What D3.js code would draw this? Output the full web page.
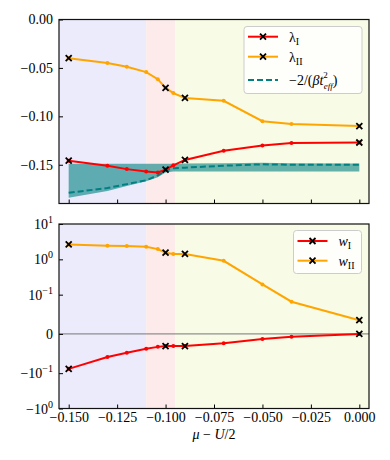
<!DOCTYPE html>
<html>
<head>
<meta charset="utf-8">
<script src="https://cdn.jsdelivr.net/npm/d3@7"></script>
<style>
  body { margin: 0; background: #fff; }
  text { font-family: "Liberation Serif", "DejaVu Serif", serif; }
</style>
</head>
<body>
<svg id="chart"></svg>
<script>
// data
const mu = [-0.15, -0.13, -0.12, -0.11, -0.104, -0.1, -0.096, -0.09, -0.07, -0.05, -0.035, 0];
const lamI = [-0.1458, -0.151, -0.1545, -0.157, -0.158, -0.155, -0.1506, -0.145, -0.1355, -0.130, -0.1275, -0.127];
const lamII = [-0.040, -0.045, -0.0488, -0.0543, -0.0616, -0.0706, -0.076, -0.081, -0.084, -0.105, -0.108, -0.110];
const tEff = [-0.179, -0.174, -0.170, -0.166, -0.161, -0.156, -0.1535, -0.153, -0.151, -0.1495, -0.150, -0.150];
const bandLo = [-0.184, -0.177, -0.172, -0.167, -0.163, -0.158, -0.157, -0.157, -0.157, -0.157, -0.157, -0.157];
const bandHi = [-0.149, -0.149, -0.149, -0.149, -0.149, -0.149, -0.149, -0.1488, -0.1484, -0.1478, -0.1484, -0.1486];
const wI = [-0.089, -0.059, -0.048, -0.038, -0.033, -0.031, -0.031, -0.031, -0.024, -0.013, -0.0074, 0.0];
const wII = [2.65, 2.43, 2.38, 2.27, 1.95, 1.54, 1.42, 1.42, 0.91, 0.195, 0.082, 0.035];
const keyIdx = [0, 5, 7, 11];
const regions = [
  { x0: -0.155, x1: -0.11, color: "#ebebfc" },
  { x0: -0.11, x1: -0.095, color: "#fdebeb" },
  { x0: -0.095, x1: 0.005, color: "#f8fbe6" }
];
const xTicks = [-0.15, -0.125, -0.1, -0.075, -0.05, -0.025, 0];
const topYTicks = [0, -0.05, -0.1, -0.15];
const botYTicks = [10, 1, 0.1, 0, -0.1, -1];
const botYLabels = [["10", "1"], ["10", "0"], ["10", "\u22121"], ["0", null], ["\u221210", "\u22121"], ["\u221210", "0"]];

const width = 390, height = 460;
const left = 59, right = 369;
const svg = d3.select("#chart").attr("width", width).attr("height", height);

const x = d3.scaleLinear().domain([-0.155, 0.005]).range([left, right]);
const yTop = d3.scaleLinear().domain([-0.19, 0]).range([203.5, 19.5]);

// matplotlib-style symlog, linthresh 0.1, linscale 1
const lt = 0.1, ls = 1 / (1 - 1 / 10);
const symlog = v => {
  const a = Math.abs(v);
  if (a <= lt) return v * ls;
  return Math.sign(v) * lt * (ls + Math.log10(a / lt));
};
const yBotT = d3.scaleLinear().domain([symlog(-1), symlog(10)]).range([408.5, 224]);
const yBot = v => yBotT(symlog(v));

const minus = s => s.replace(/-/g, "\u2212");

function panel(y0, y1) {
  const g = svg.append("g");
  regions.forEach(r => {
    g.append("rect")
      .attr("x", x(r.x0)).attr("y", y0)
      .attr("width", x(r.x1) - x(r.x0)).attr("height", y1 - y0)
      .attr("fill", r.color);
  });
  return g;
}

function frame(y0, y1) {
  svg.append("rect")
    .attr("x", left).attr("y", y0)
    .attr("width", right - left).attr("height", y1 - y0)
    .attr("fill", "none").attr("stroke", "#111").attr("stroke-width", 1.2);
}

function xMarker(g, px, py, s = 3) {
  g.append("path")
    .attr("d", `M${px - s},${py - s}L${px + s},${py + s}M${px - s},${py + s}L${px + s},${py - s}`)
    .attr("stroke", "#000").attr("stroke-width", 1.8);
}

function series(g, ys, yScale, color) {
  const line = d3.line().x((d, i) => x(mu[i])).y(d => yScale(d));
  g.append("path").datum(ys).attr("d", line)
    .attr("fill", "none").attr("stroke", color).attr("stroke-width", 2);
  g.selectAll(null).data(ys).enter().append("circle")
    .attr("cx", (d, i) => x(mu[i])).attr("cy", d => yScale(d))
    .attr("r", 2).attr("fill", color);
  keyIdx.forEach(i => xMarker(g, x(mu[i]), yScale(ys[i])));
}

// ---------- top panel ----------
const gTop = panel(19.5, 203.5);
const area = d3.area()
  .x((d, i) => x(mu[i]))
  .y0((d, i) => yTop(bandLo[i]))
  .y1((d, i) => yTop(bandHi[i]));
gTop.append("path").datum(mu).attr("d", area)
  .attr("fill", "#008080").attr("fill-opacity", 0.6);
gTop.append("path").datum(tEff)
  .attr("d", d3.line().x((d, i) => x(mu[i])).y(d => yTop(d)))
  .attr("fill", "none").attr("stroke", "#008080").attr("stroke-width", 2)
  .attr("stroke-dasharray", "6,3");
series(gTop, lamII, yTop, "#ffa500");
series(gTop, lamI, yTop, "#ff0000");

// top axes
svg.append("g").attr("transform", "translate(0,203.5)")
  .call(d3.axisBottom(x).tickValues(xTicks).tickSizeInner(-4).tickSizeOuter(0).tickFormat(""))
  .call(g => g.select(".domain").remove());
svg.append("g").attr("transform", `translate(${left},0)`)
  .call(d3.axisLeft(yTop).tickValues(topYTicks).tickSizeInner(-4).tickSizeOuter(0)
    .tickPadding(6).tickFormat(d => minus(d3.format(".2f")(d))))
  .call(g => g.select(".domain").remove())
  .call(g => g.selectAll("text").attr("font-size", 14).attr("fill", "#000")
    .attr("font-family", "Liberation Serif"));
frame(19.5, 203.5);

// ---------- bottom panel ----------
const gBot = panel(224, 408.5);
gBot.append("line")
  .attr("x1", left).attr("x2", right).attr("y1", yBot(0)).attr("y2", yBot(0))
  .attr("stroke", "#777").attr("stroke-width", 1);
series(gBot, wII, yBot, "#ffa500");
series(gBot, wI, yBot, "#ff0000");

svg.append("g").attr("transform", "translate(0,408.5)")
  .call(d3.axisBottom(x).tickValues(xTicks).tickSizeInner(-4).tickSizeOuter(0)
    .tickPadding(4).tickFormat(d => minus(d3.format(".3f")(d))))
  .call(g => g.select(".domain").remove())
  .call(g => g.selectAll("text").attr("font-size", 14).attr("fill", "#000")
    .attr("font-family", "Liberation Serif"));

svg.append("g").attr("transform", `translate(${left},0)`)
  .call(d3.axisLeft(yBotT).tickValues(botYTicks.map(symlog)).tickSizeInner(-4).tickSizeOuter(0).tickFormat(""))
  .call(g => g.select(".domain").remove());
botYTicks.forEach((v, i) => {
  const [base, ex] = botYLabels[i];
  const t = svg.append("text")
    .attr("x", left - 6).attr("y", yBot(v) + 5)
    .attr("text-anchor", "end").attr("font-size", 14);
  if (ex === null) {
    t.text(base);
  } else {
    t.append("tspan").text(base);
    t.append("tspan").attr("dy", -6).attr("font-size", 10).text(ex);
  }
});
frame(224, 408.5);

// x label
const xl = svg.append("text").attr("x", (left + right) / 2).attr("y", 439)
  .attr("text-anchor", "middle").attr("font-size", 14);
xl.append("tspan").attr("font-style", "italic").text("\u03bc");
xl.append("tspan").text(" \u2212 ");
xl.append("tspan").attr("font-style", "italic").text("U");
xl.append("tspan").text("/2");

// ---------- legends ----------
function legend(x0, y0, w, h, items) {
  const g = svg.append("g");
  g.append("rect").attr("x", x0).attr("y", y0).attr("width", w).attr("height", h)
    .attr("rx", 3).attr("fill", "#fff").attr("fill-opacity", 0.8)
    .attr("stroke", "#ccc").attr("stroke-width", 1);
  items.forEach(it => {
    const lx0 = x0 + 4, lx1 = x0 + 34, ly = it.y;
    g.append("line").attr("x1", lx0).attr("x2", lx1).attr("y1", ly).attr("y2", ly)
      .attr("stroke", it.color).attr("stroke-width", 2)
      .attr("stroke-dasharray", it.dash ? "6,3" : null);
    if (!it.dash) xMarker(g, (lx0 + lx1) / 2, ly);
    const t = g.append("text").attr("x", x0 + 45).attr("y", ly + 5).attr("font-size", 14);
    it.label(t);
  });
}

const mathLabel = (sym, sub, italic) => t => {
  t.append("tspan").attr("font-style", italic ? "italic" : null).text(sym);
  t.append("tspan").attr("dy", 3).attr("font-size", 10).text(sub);
};

legend(244, 26.5, 118, 67, [
  { y: 36.7, color: "#ff0000", label: mathLabel("\u03bb", "I", false) },
  { y: 56.7, color: "#ffa500", label: mathLabel("\u03bb", "II", false) },
  { y: 80, color: "#008080", dash: true, label: t => {
      t.append("tspan").text("\u22122/(");
      t.append("tspan").attr("font-style", "italic").text("\u03b2t");
      t.append("tspan").attr("dy", -7).attr("font-size", 9).text("2");
      t.append("tspan").attr("dy", 11).attr("dx", -4).attr("font-size", 9).attr("font-style", "italic").text("eff");
      t.append("tspan").attr("dy", -4).text(")");
    } }
]);

legend(293.5, 230.5, 68, 43, [
  { y: 241, color: "#ff0000", label: mathLabel("w", "I", true) },
  { y: 260.7, color: "#ffa500", label: mathLabel("w", "II", true) }
]);
</script>
</body>
</html>
